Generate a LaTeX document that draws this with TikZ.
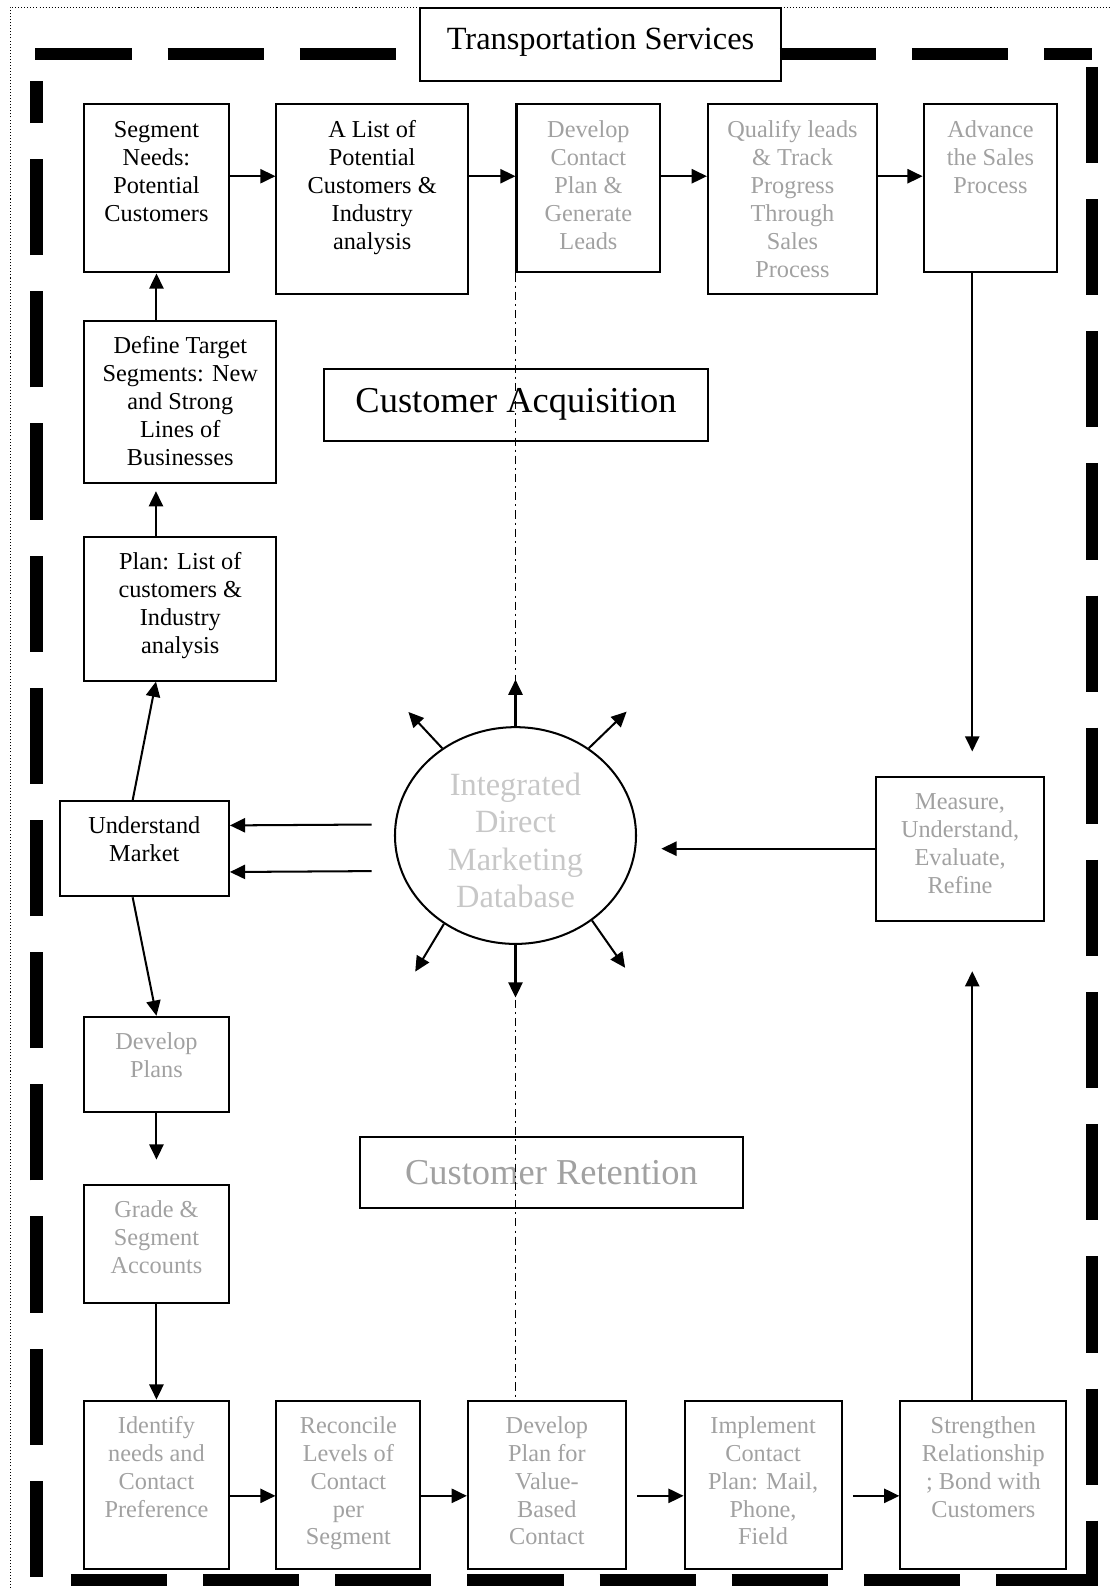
\documentclass[tikz,border=0pt]{standalone}
\usepackage{fontspec}
\setmainfont{Liberation Serif}
\usetikzlibrary{arrows.meta,shapes.geometric}
\definecolor{fadegray}{gray}{0.63}
\definecolor{dbgray}{gray}{0.78}
\newcommand{\boxtext}[4][6.9pt]{\parbox[c][#3][t]{#2}{\centering\vspace*{#1}\strut#4}}

\begin{document}
\begin{tikzpicture}[x=0.5pt, y=-0.5pt]
      \tikzstyle{box}=[rectangle, draw=black, line width=1pt, inner sep=0pt, anchor=north west, font=\fontsize{12}{13.8}\selectfont]
      \tikzstyle{faded}=[text=fadegray]
      \tikzstyle{heading}=[box, minimum width=189.5pt, minimum height=35.5pt, font=\fontsize{18}{20.7}\selectfont]
      \tikzstyle{connect}=[-{Triangle[length=7.5pt,width=7pt]}, line width=1pt]
      \tikzstyle{frame}=[line width=6pt, dash pattern=on 47.5pt off 17.75pt]
      \tikzstyle{axis}=[line width=0.8pt, dash pattern=on 4pt off 2pt on 1pt off 2pt]

      \useasboundingbox (0,0) rectangle (1098,1568);
      \draw[line width=0.5pt, dash pattern=on 0.5pt off 1pt] (10,1568) -- (10,7) -- (1098,7);
      \draw[frame] (35,53) -- (414,53);
      \draw[frame] (770,53) -- (1078,53);
      \draw[frame] (1078,66) -- (1078,1566);
      \draw[frame] (70,1560) -- (1084,1560);
      \draw[frame] (36,1557) -- (36,80);

      \node[box, font=\fontsize{16}{18.4}\selectfont] (title) at (414,7) {\boxtext[7.4pt]{178pt}{36pt}{Transportation Services}};

      \node[box] (seg) at (82,102) {\boxtext{71.5pt}{83pt}{Segment\\Needs:\\Potential\\Customers}};
      \node[box] (list) at (272,102) {\boxtext{94.5pt}{93.5pt}{A List of\\Potential\\Customers \&\\Industry\\analysis}};
      \node[box, faded] (devc) at (509,102) {\boxtext{71pt}{83pt}{Develop\\Contact\\Plan \&\\Generate\\Leads}};
      \node[box, faded] (qual) at (698,102) {\boxtext{83.5pt}{93.5pt}{Qualify leads\\\& Track\\Progress\\Through\\Sales\\Process}};
      \node[box, faded] (adv) at (911,102) {\boxtext{66pt}{83pt}{Advance\\the Sales\\Process}};

      \node[box] (deft) at (82,316) {\boxtext[6.4pt]{95pt}{80pt}{Define Target\\Segments: New\\and Strong\\Lines of\\Businesses}};
      \node[box] (plan) at (82,529) {\boxtext[6.4pt]{95pt}{71pt}{Plan: List of\\customers \&\\Industry\\analysis}};
      \node[box] (und) at (58,790) {\boxtext[6.4pt]{83.5pt}{47pt}{Understand\\Market}};
      \node[box, faded] (devp) at (82,1003) {\boxtext[6.4pt]{71.5pt}{47pt}{Develop\\Plans}};
      \node[box, faded] (grade) at (82,1169) {\boxtext[6.4pt]{71.5pt}{58.5pt}{Grade \&\\Segment\\Accounts}};

      \node[box, faded] (ident) at (82,1382) {\boxtext[6.4pt]{71.5pt}{83pt}{Identify\\needs and\\Contact\\Preference}};
      \node[box, faded] (recon) at (272,1382) {\boxtext[6.4pt]{71pt}{83pt}{Reconcile\\Levels of\\Contact\\per\\Segment}};
      \node[box, faded] (devv) at (461,1382) {\boxtext[6.4pt]{78pt}{83pt}{Develop\\Plan for\\Value-\\Based\\Contact}};
      \node[box, faded] (impl) at (675,1382) {\boxtext[6.4pt]{77.5pt}{83pt}{Implement\\Contact\\Plan: Mail,\\Phone,\\Field}};
      \node[box, faded] (str) at (888,1382) {\boxtext[6.4pt]{82pt}{83pt}{Strengthen\\Relationship\\; Bond with\\Customers}};

      \node[box, faded] (meas) at (864,766) {\boxtext[6.4pt]{83pt}{71pt}{Measure,\\Understand,\\Evaluate,\\Refine}};

      \node[heading] (acq) at (319,363) {Customer Acquisition};
      \node[heading, faded, minimum height=35pt] (ret) at (354,1122) {Customer Retention};

      \node[ellipse, draw, line width=1pt, minimum width=119pt, minimum height=107pt, inner sep=0pt, align=center, text=dbgray, font=\fontsize{16}{18.4}\selectfont] (db) at (509,825) {\rule{0pt}{16pt}Integrated\\Direct\\Marketing\\Database};

      \draw[axis] (devc.south west) -- (db.north);
      \draw[axis] (db.south) -- (db.south |- devv.north);

      \path ([yshift=-36pt]seg.north east) edge [connect] ([yshift=-36pt]list.north west)
            ([yshift=-36pt]list.north east) edge [connect] ([yshift=-36pt]devc.north west)
            ([yshift=-36pt]devc.north east) edge [connect] ([yshift=-36pt]qual.north west)
            ([yshift=-36pt]qual.north east) edge [connect] ([yshift=-36pt]adv.north west);

      \path (seg.south |- deft.north) edge [connect] (seg.south)
            ([xshift=-12pt]plan.north) edge [connect, shorten >=3.5pt] ([xshift=-12pt]deft.south)
            ([xshift=-5.75pt]und.north) edge [connect] ([xshift=-12pt]plan.south)
            ([xshift=-5.75pt]und.south) edge [connect] (devp.north)
            (devp.south) edge [connect, shorten >=12pt] (grade.north)
            (grade.south) edge [connect] (ident.north);

      \path ([yshift=-47.5pt]ident.north east) edge [connect] ([yshift=-47.5pt]recon.north west)
            ([yshift=-47.5pt]recon.north east) edge [connect] ([yshift=-47.5pt]devv.north west)
            ([yshift=-47.5pt]devv.north east) edge [connect, shorten <=5pt] ([yshift=-47.5pt]impl.north west)
            ([yshift=-47.5pt]impl.north east) edge [connect, shorten <=5pt] ([yshift=-47.5pt]str.north west);

      \path ([xshift=-9pt]adv.south) edge [connect, shorten >=12pt] ([xshift=6pt]meas.north)
            ([xshift=-5.5pt]str.north) edge [connect, shorten >=24.5pt] ([xshift=6pt]meas.south)
            (meas.west) edge [connect, shorten >=12pt] (meas.west -| db.east);

      \path ([yshift=5.5pt]db.west) edge [connect, shorten <=11pt] ([yshift=11.5pt]und.east)
            ([yshift=-17.5pt]db.west) edge [connect, shorten <=11pt] ([yshift=-11.5pt]und.east);

      \foreach \from/\dir/\len in {90/90/23pt, 130/133/24.5pt, 50/44/26pt, 231/239/27.5pt, 312/305/28.5pt, 270/270/26pt}
        \draw[connect] (db.\from) -- ++(\dir:\len);
\end{tikzpicture}
\end{document}
